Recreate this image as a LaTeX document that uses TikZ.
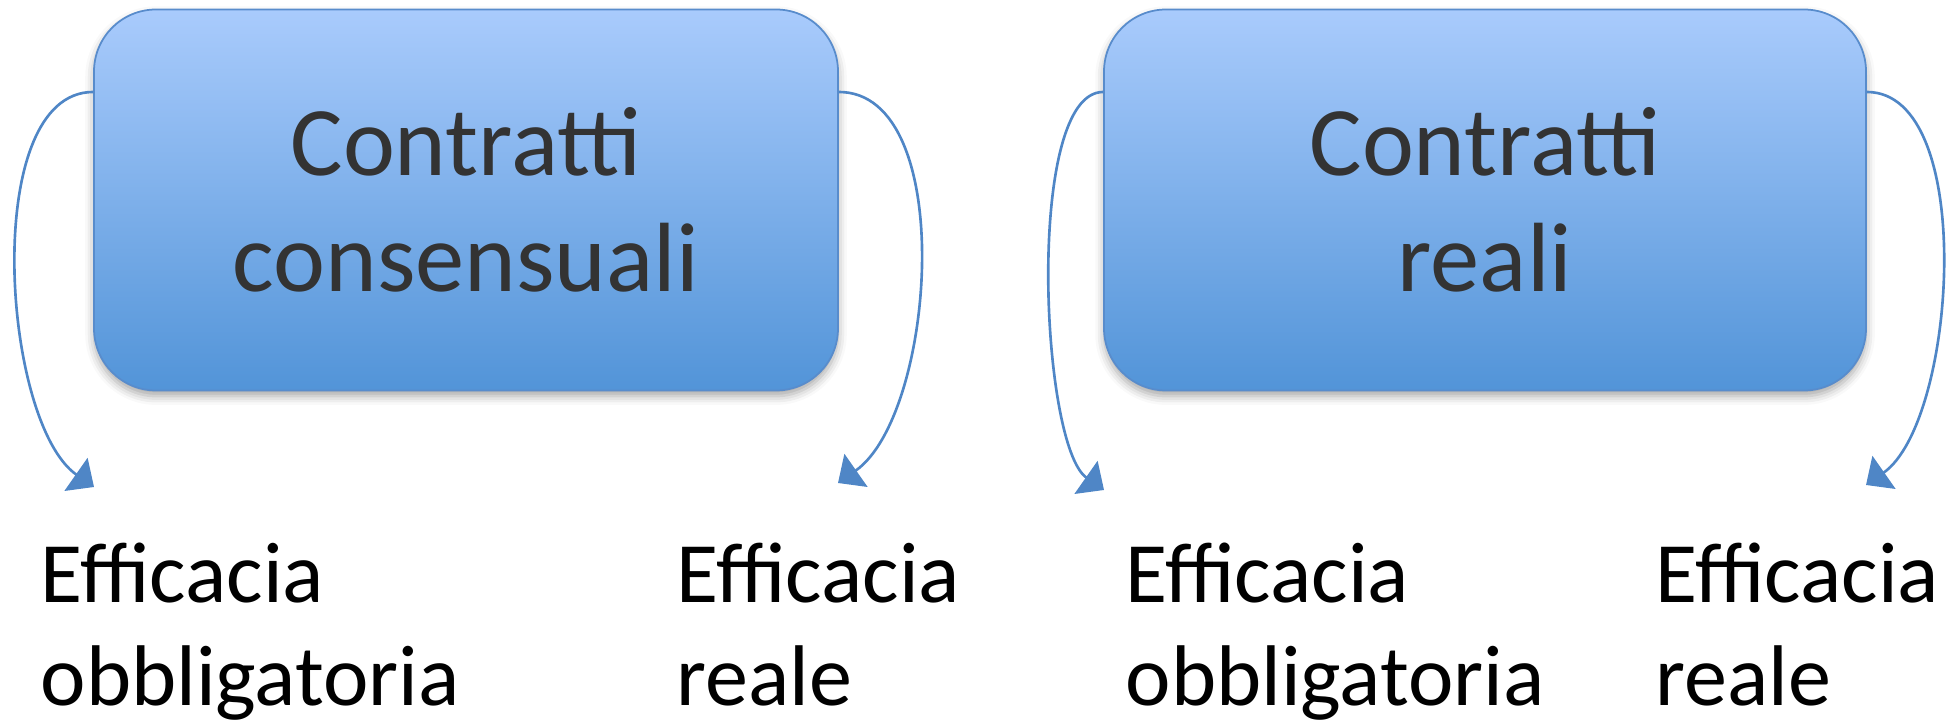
\documentclass[tikz,border=0pt]{standalone}
\usepackage{fontspec}
\setmainfont{Carlito}
\usetikzlibrary{arrows.meta,shadows.blur}
\definecolor{boxTop}{RGB}{169,203,252}
\definecolor{boxBot}{RGB}{82,148,216}
\definecolor{boxEdge}{RGB}{88,140,204}
\definecolor{linkBlue}{RGB}{79,134,198}
\definecolor{ink}{RGB}{51,51,51}
\tikzset{
  contract/.style={rounded corners=6.2mm, draw=boxEdge, line width=0.5pt,
    top color=boxTop, bottom color=boxBot, minimum height=3.81cm,
    align=center, text=ink, font=\fontsize{28}{33}\selectfont,
    blur shadow={shadow xshift=0pt, shadow yshift=-1.6pt,
      shadow blur radius=2.5pt, shadow opacity=35}},
  effect/.style={anchor=base west, align=left, inner sep=0pt,
    font=\fontsize{24.5}{29.5}\selectfont},
  curved/.style={-{Triangle[length=2.2mm, width=4mm]}, draw=linkBlue,
    line width=0.75pt},
}

\begin{document}
\begin{tikzpicture}[x=0.1mm, y=-0.1mm]
  \useasboundingbox (0,0) rectangle (1959,725);
  % the two kinds of contract
  \node[contract, minimum width=7.44cm] (cons) at (466,200) {Contratti\\consensuali};
  \node[contract, minimum width=7.62cm] (real) at (1485,200) {Contratti\\reali};
  % what each one produces
  \node[effect] (consObl) at (40,706) {Efficacia\\obbligatoria};
  \node[effect] (consReal) at (676,706) {Efficacia\\reale};
  \node[effect] (realObl) at (1125,706) {Efficacia\\obbligatoria};
  \node[effect] (realReal) at (1655,706) {Efficacia\\reale};
  % arrow ends
  \coordinate (tipA) at (94,487);
  \coordinate (tipB) at (838,483);
  \coordinate (tipC) at (1104,490);
  \coordinate (tipD) at (1866,485);
  \draw[curved] ([yshift=1.08cm]cons.west) to[out=180, in=145, looseness=0.73] (tipA);
  \draw[curved] ([yshift=1.08cm]cons.east) to[out=0, in=35, looseness=0.78] (tipB);
  \draw[curved] ([yshift=1.08cm]real.west) to[out=180, in=145, looseness=0.5] (tipC);
  \draw[curved] ([yshift=1.08cm]real.east) to[out=0, in=35, looseness=0.72] (tipD);
\end{tikzpicture}
\end{document}
